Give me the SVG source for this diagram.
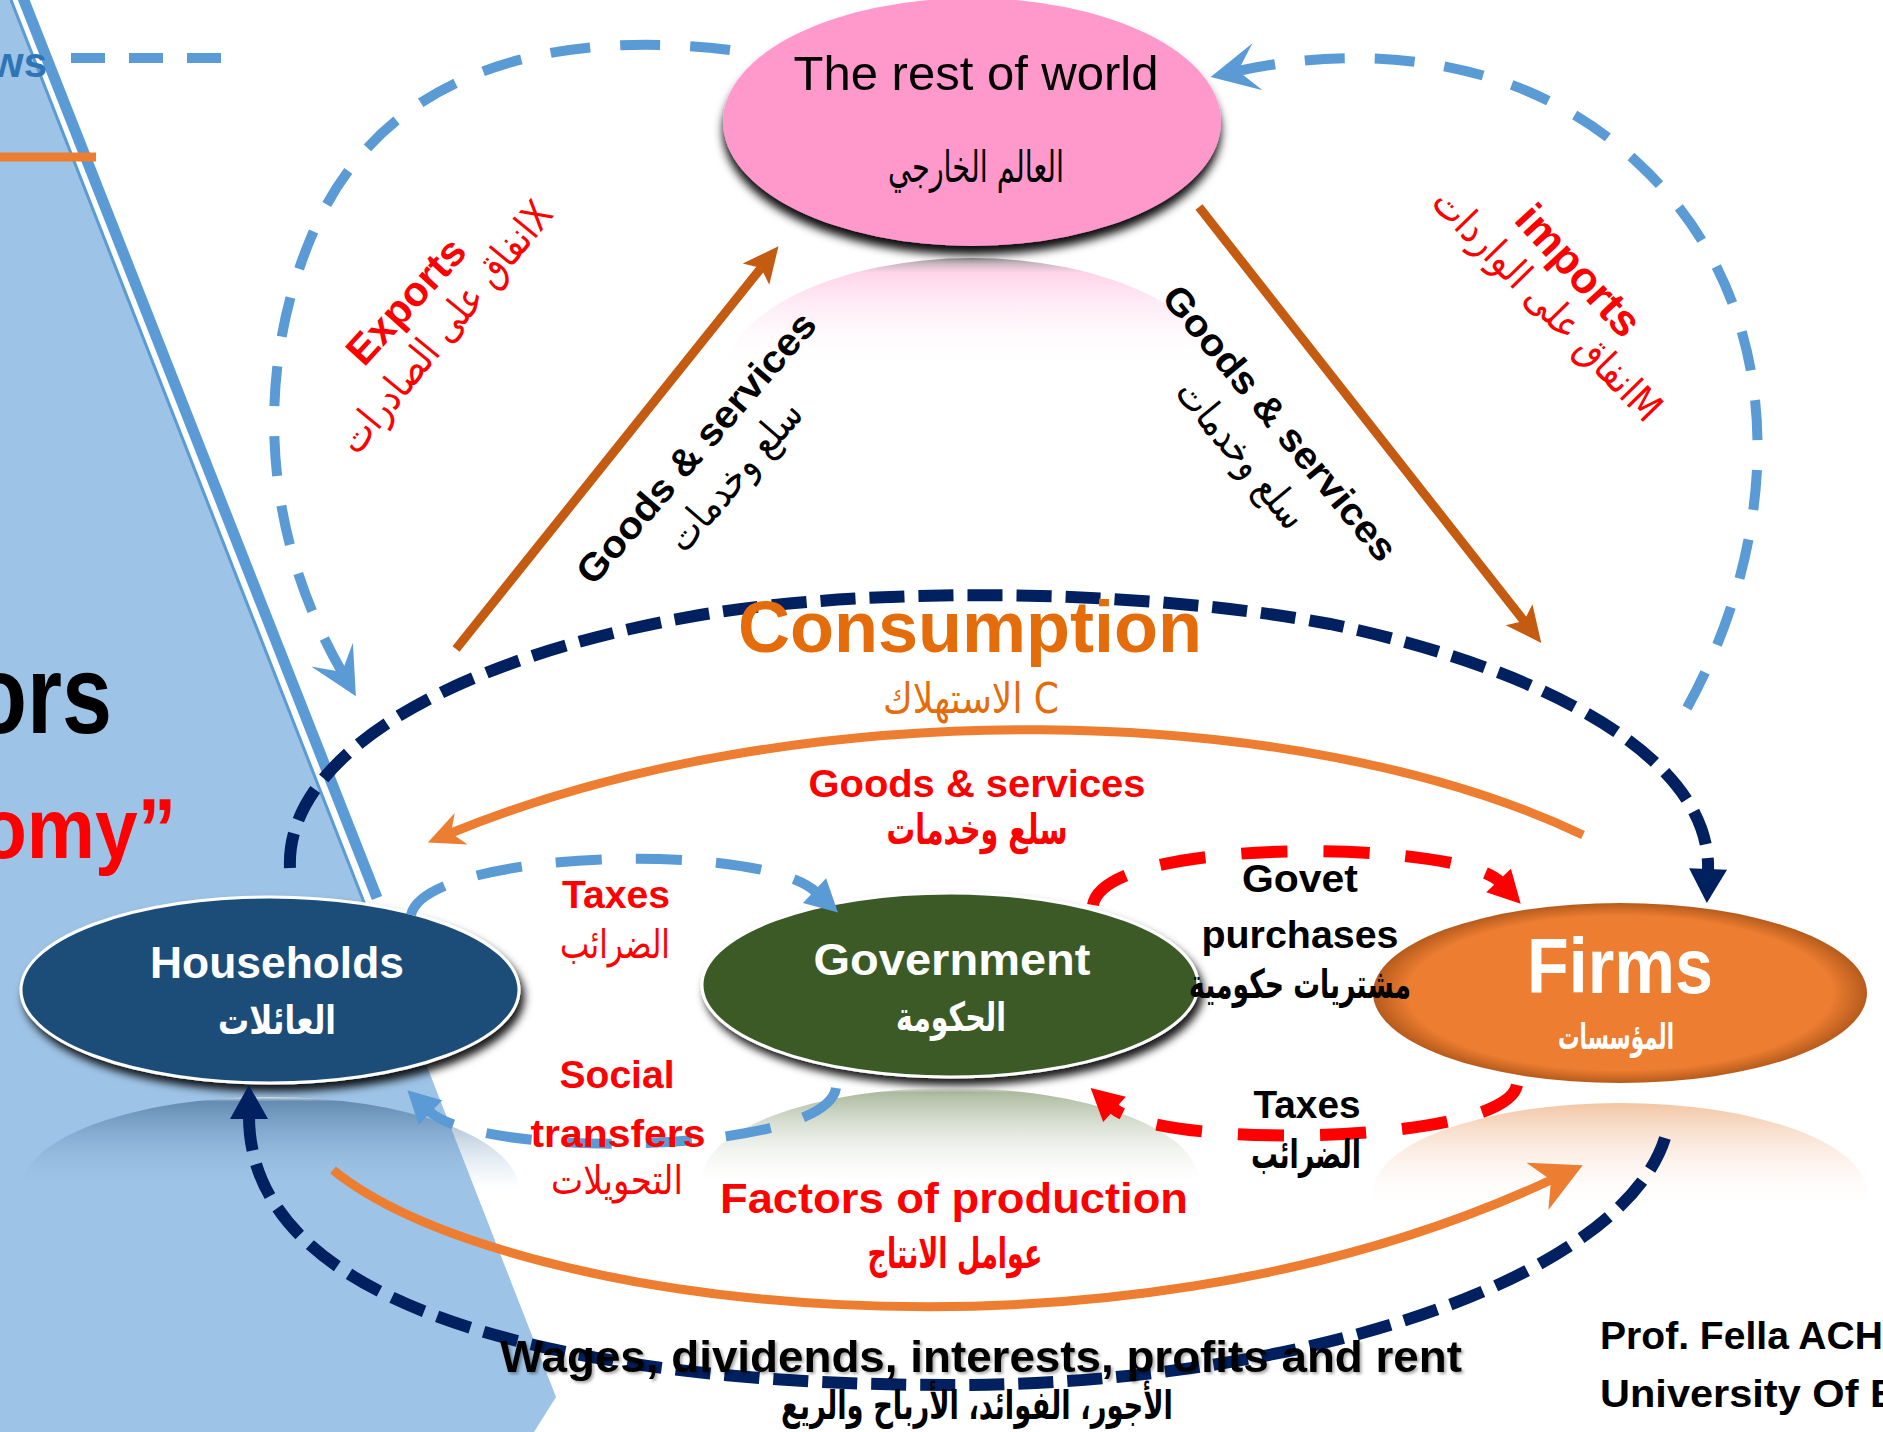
<svg xmlns="http://www.w3.org/2000/svg" width="1883" height="1432" viewBox="0 0 1883 1432">
<style>
.en{font-family:"Liberation Sans",Arial,sans-serif;font-weight:bold}
.enr{font-family:"Liberation Sans",Arial,sans-serif}
.ar{font-family:"DejaVu Sans",sans-serif}
.mid{text-anchor:middle}
.lbDash{fill:none;stroke:#5B9BD5;stroke-width:10;stroke-dasharray:40 30}
.lbDash2{fill:none;stroke:#5B9BD5;stroke-width:10;stroke-dasharray:46 34}
.navy{fill:none;stroke:#002060;stroke-width:12;stroke-dasharray:35 14}
.red{fill:none;stroke:#FF0000;stroke-width:12;stroke-dasharray:46 36}
.orange{fill:none;stroke:#ED7D31;stroke-width:9}
.brown{fill:none;stroke:#C55A11;stroke-width:9}
</style>
<defs>
<filter id="shRW" x="-20%" y="-20%" width="140%" height="150%"><feDropShadow dx="0" dy="9" stdDeviation="5" flood-color="#000" flood-opacity="0.95"/></filter>
<filter id="shN" x="-20%" y="-20%" width="140%" height="150%"><feDropShadow dx="4" dy="7" stdDeviation="4" flood-color="#000" flood-opacity="0.9"/></filter>
<filter id="shT" x="-5%" y="-20%" width="110%" height="150%"><feDropShadow dx="2" dy="2" stdDeviation="1.5" flood-color="#000" flood-opacity="0.35"/></filter>
<filter id="soft" x="-10%" y="-10%" width="120%" height="120%"><feGaussianBlur stdDeviation="1.2"/></filter>
<radialGradient id="gFirm" cx="50%" cy="50%" r="50%"><stop offset="0" stop-color="#ED7D31"/><stop offset="0.86" stop-color="#ED7D31"/><stop offset="1" stop-color="#B65B1C"/></radialGradient>
<linearGradient id="rRW" x1="0" y1="0" x2="0" y2="1"><stop offset="0" stop-color="#8a8a8a" stop-opacity="0.8"/><stop offset="0.06" stop-color="#FFB8DC" stop-opacity="0.6"/><stop offset="0.45" stop-color="#FFFFFF" stop-opacity="0"/></linearGradient>
<linearGradient id="rHH" x1="0" y1="0" x2="0" y2="1"><stop offset="0" stop-color="#FFFFFF" stop-opacity="0.9"/><stop offset="0.025" stop-color="#3F668F" stop-opacity="0.6"/><stop offset="0.5" stop-color="#9DC3E6" stop-opacity="0"/></linearGradient>
<linearGradient id="rGV" x1="0" y1="0" x2="0" y2="1"><stop offset="0" stop-color="#FFFFFF" stop-opacity="0.9"/><stop offset="0.025" stop-color="#8FA47E" stop-opacity="0.75"/><stop offset="0.55" stop-color="#FFFFFF" stop-opacity="0"/></linearGradient>
<linearGradient id="rFM" x1="0" y1="0" x2="0" y2="1"><stop offset="0" stop-color="#F2C3A0" stop-opacity="0.95"/><stop offset="0.6" stop-color="#FFFFFF" stop-opacity="0"/></linearGradient>
<marker id="mBlueS" markerUnits="userSpaceOnUse" orient="auto" markerWidth="60" markerHeight="60" refX="20" refY="0" overflow="visible"><path d="M0,-24 L48,0 L0,24 L20,0 Z" fill="#5B9BD5"/></marker>
<marker id="mOrS" markerUnits="userSpaceOnUse" orient="auto" markerWidth="60" markerHeight="60" refX="11" refY="0" overflow="visible"><path d="M0,-17 L36,0 L0,17 L11,0 Z" fill="#ED7D31"/></marker>
<marker id="mOrL" markerUnits="userSpaceOnUse" orient="auto" markerWidth="60" markerHeight="60" refX="15" refY="0" overflow="visible"><path d="M0,-26 L50,0 L0,26 L15,0 Z" fill="#ED7D31"/></marker>
<marker id="mBrown" markerUnits="userSpaceOnUse" orient="auto" markerWidth="60" markerHeight="60" refX="8" refY="0" overflow="visible"><path d="M0,-17 L36,0 L0,17 L8,0 Z" fill="#C55A11"/></marker>
<marker id="mTriB" markerUnits="userSpaceOnUse" orient="auto" markerWidth="60" markerHeight="60" refX="2" refY="0" overflow="visible"><path d="M0,-17 L32,0 L0,17 Z" fill="#5B9BD5"/></marker>
<marker id="mTriR" markerUnits="userSpaceOnUse" orient="auto" markerWidth="60" markerHeight="60" refX="2" refY="0" overflow="visible"><path d="M0,-17 L32,0 L0,17 Z" fill="#FF0000"/></marker>
<marker id="mTriN" markerUnits="userSpaceOnUse" orient="auto" markerWidth="60" markerHeight="60" refX="2" refY="0" overflow="visible"><path d="M0,-19 L34,0 L0,19 Z" fill="#002060"/></marker>
</defs>
<rect width="1883" height="1432" fill="#FFFFFF"/>
<g id="background">
<polygon points="0,0 11,0 556,1397 534,1432 0,1432" fill="#9DC3E6"/>
<line x1="11" y1="0" x2="365" y2="905" stroke="#5B9BD5" stroke-width="3"/>
<line x1="23" y1="-2" x2="377" y2="898" stroke="#5B9BD5" stroke-width="11"/>
<line x1="0" y1="157" x2="96" y2="157" stroke="#ED7D31" stroke-width="9"/>
<line x1="71" y1="58" x2="221" y2="58" stroke="#5B9BD5" stroke-width="10" stroke-dasharray="34 24"/>
<text class="en" x="47" y="77" font-size="42" fill="#2E75B6" text-anchor="end">ws</text>
<text class="en" x="112" y="733" font-size="112" fill="#000" text-anchor="end" textLength="140" lengthAdjust="spacingAndGlyphs">ors</text>
<text class="en" x="176" y="858" font-size="86" fill="#FF0000" text-anchor="end" textLength="196" lengthAdjust="spacingAndGlyphs">omy”</text>
</g>
<g id="reflections">
<ellipse cx="972" cy="382" rx="249" ry="124" fill="url(#rRW)"/>
<ellipse cx="270" cy="1190" rx="249" ry="93" fill="url(#rHH)"/>
<ellipse cx="950" cy="1180" rx="248" ry="92" fill="url(#rGV)"/>
<ellipse cx="1620" cy="1193" rx="247" ry="90" fill="url(#rFM)"/>
</g>
<g id="node-rest-of-world">
<ellipse cx="972" cy="122" rx="249" ry="124" fill="#FF99CC" filter="url(#shRW)"/>
<text class="enr mid" x="976" y="90" font-size="49" fill="#000">The rest of world</text>
<text class="ar mid" x="976" y="182" font-size="44" fill="#000" textLength="176" lengthAdjust="spacingAndGlyphs">العالم الخارجي</text>
</g>
<g id="node-households">
<ellipse cx="270" cy="990" rx="249" ry="93" fill="#1F4E79" stroke="#FFFFFF" stroke-width="3" filter="url(#shN)"/>
<text class="en mid" x="277" y="978" font-size="45" fill="#FFFFFF" textLength="254" lengthAdjust="spacingAndGlyphs">Households</text>
<text class="ar mid" x="277" y="1034" font-size="40" font-weight="bold" fill="#FFFFFF" textLength="118" lengthAdjust="spacingAndGlyphs">العائلات</text>
</g>
<g id="node-government">
<ellipse cx="950" cy="985" rx="248" ry="92" fill="#3A5A26" stroke="#FFFFFF" stroke-width="3" filter="url(#shN)"/>
<text class="en mid" x="952" y="975" font-size="45" fill="#FFFFFF" textLength="277" lengthAdjust="spacingAndGlyphs">Government</text>
<text class="ar mid" x="951" y="1031" font-size="40" font-weight="bold" fill="#FFFFFF" textLength="110" lengthAdjust="spacingAndGlyphs">الحكومة</text>
</g>
<g id="node-firms">
<ellipse cx="1620" cy="993" rx="247" ry="90" fill="url(#gFirm)"/>
<text class="en mid" x="1620" y="993" font-size="77" fill="#FFFFFF" textLength="186" lengthAdjust="spacingAndGlyphs">Firms</text>
<text class="ar mid" x="1616" y="1049" font-size="36" font-weight="bold" fill="#FFFFFF" textLength="116" lengthAdjust="spacingAndGlyphs">المؤسسات</text>
</g>
<g id="connectors">
<path class="lbDash" d="M 730 50 C 520 25 370 90 310 240 C 260 360 255 520 342 672" marker-end="url(#mBlueS)"/>
<path class="lbDash" d="M 1687 708 C 1790 520 1785 300 1640 165 C 1540 68 1390 38 1238 71" marker-end="url(#mBlueS)"/>
<line class="brown" x1="456" y1="649" x2="761" y2="268" marker-end="url(#mBrown)"/>
<line class="brown" x1="1199" y1="207" x2="1524" y2="621" marker-end="url(#mBrown)"/>
<path class="navy" d="M 290 868 C 285 760 440 660 700 615 C 880 585 1150 590 1330 624 C 1550 670 1712 760 1708 871" marker-end="url(#mTriN)"/>
<path class="orange" d="M 1583 835 C 1300 700 800 690 451 833" marker-end="url(#mOrS)"/>
<path class="lbDash2" d="M 411 915 C 425 850 760 840 816 892" marker-end="url(#mTriB)"/>
<path class="red" d="M 1093 905 C 1105 835 1460 840 1500 882" marker-end="url(#mTriR)"/>
<path class="red" d="M 1517 1085 C 1505 1145 1160 1150 1113 1108" marker-end="url(#mTriR)"/>
<path class="lbDash2" d="M 836 1088 C 825 1155 480 1160 429 1111" marker-end="url(#mTriB)"/>
<path class="orange" d="M 333 1170 C 500 1305 1100 1390 1551 1180" marker-end="url(#mOrL)"/>
<path class="navy" d="M 1665 1138 C 1620 1280 1300 1385 950 1385 C 600 1385 250 1320 249 1117" marker-end="url(#mTriN)"/>
</g>
<g id="labels">
<g transform="translate(406,301) rotate(-47.6)"><text class="en mid" x="0" y="14" font-size="41" fill="#FF0000" textLength="155" lengthAdjust="spacingAndGlyphs">Exports</text></g>
<g transform="translate(449,330) rotate(-50.7)"><text class="ar mid" x="0" y="9" font-size="40" fill="#FF0000" textLength="312" lengthAdjust="spacingAndGlyphs">انفاق على الصادراتX</text></g>
<g transform="translate(1578,271) rotate(47.4)"><text class="en mid" x="0" y="14" font-size="44" fill="#FF0000" textLength="162" lengthAdjust="spacingAndGlyphs">imports</text></g>
<g transform="translate(1544,308) rotate(45.6)"><text class="ar mid" x="0" y="9" font-size="40" fill="#FF0000" textLength="308" lengthAdjust="spacingAndGlyphs">انفاق على الوارداتM</text></g>
<g transform="translate(696,448) rotate(-49.2)"><text class="en mid" x="0" y="13" font-size="38" fill="#000" textLength="345" lengthAdjust="spacingAndGlyphs">Goods &amp; services</text></g>
<g transform="translate(738,479) rotate(-49.2)"><text class="ar mid" x="0" y="9" font-size="40" fill="#000" textLength="184" lengthAdjust="spacingAndGlyphs">سلع وخدمات</text></g>
<g transform="translate(1280,423) rotate(50.5)"><text class="en mid" x="0" y="13" font-size="38" fill="#000" textLength="345" lengthAdjust="spacingAndGlyphs">Goods &amp; services</text></g>
<g transform="translate(1238,457) rotate(50.5)"><text class="ar mid" x="0" y="9" font-size="40" fill="#000" textLength="180" lengthAdjust="spacingAndGlyphs">سلع وخدمات</text></g>
<text class="en mid" x="970" y="652" font-size="72" fill="#E46C0A" textLength="464" lengthAdjust="spacingAndGlyphs">Consumption</text>
<text class="ar mid" x="971" y="713" font-size="42" fill="#E46C0A" textLength="176" lengthAdjust="spacingAndGlyphs">الاستهلاك C</text>
<text class="en mid" x="977" y="797" font-size="38" fill="#FF0000" textLength="337" lengthAdjust="spacingAndGlyphs">Goods &amp; services</text>
<text class="ar mid" x="977" y="844" font-size="42" font-weight="bold" fill="#FF0000" textLength="181" lengthAdjust="spacingAndGlyphs">سلع وخدمات</text>
<text class="en mid" x="616" y="908" font-size="38" fill="#FF0000" textLength="108" lengthAdjust="spacingAndGlyphs">Taxes</text>
<text class="ar mid" x="615" y="958" font-size="40" fill="#FF0000" textLength="110" lengthAdjust="spacingAndGlyphs">الضرائب</text>
<text class="en mid" x="1300" y="892" font-size="38" fill="#000" textLength="116" lengthAdjust="spacingAndGlyphs">Govet</text>
<text class="en mid" x="1300" y="948" font-size="38" fill="#000" textLength="197" lengthAdjust="spacingAndGlyphs">purchases</text>
<text class="ar mid" x="1300" y="998" font-size="40" font-weight="bold" fill="#000" textLength="222" lengthAdjust="spacingAndGlyphs">مشتريات حكومية</text>
<text class="en mid" x="1307" y="1118" font-size="38" fill="#000" textLength="107" lengthAdjust="spacingAndGlyphs">Taxes</text>
<text class="ar mid" x="1306" y="1168" font-size="40" font-weight="bold" fill="#000" textLength="110" lengthAdjust="spacingAndGlyphs">الضرائب</text>
<text class="en mid" x="617" y="1088" font-size="38" fill="#FF0000" textLength="115" lengthAdjust="spacingAndGlyphs">Social</text>
<text class="en mid" x="618" y="1147" font-size="38" fill="#FF0000" textLength="175" lengthAdjust="spacingAndGlyphs">transfers</text>
<text class="ar mid" x="617" y="1194" font-size="40" fill="#FF0000" textLength="132" lengthAdjust="spacingAndGlyphs">التحويلات</text>
<text class="en mid" x="954" y="1213" font-size="43" fill="#FF0000" textLength="468" lengthAdjust="spacingAndGlyphs">Factors of production</text>
<text class="ar mid" x="955" y="1268" font-size="42" font-weight="bold" fill="#FF0000" textLength="175" lengthAdjust="spacingAndGlyphs">عوامل الانتاج</text>
<text class="en mid" x="981" y="1372" font-size="44" fill="#000" textLength="962" lengthAdjust="spacingAndGlyphs" filter="url(#shT)">Wages, dividends, interests, profits and rent</text>
<text class="ar mid" x="977" y="1419" font-size="40" font-weight="bold" fill="#000" textLength="392" lengthAdjust="spacingAndGlyphs">الأجور، الفوائد، الأرباح والريع</text>
<text class="en" x="1600" y="1349" font-size="39" fill="#000" textLength="283" lengthAdjust="spacingAndGlyphs">Prof. Fella ACH</text>
<text class="en" x="1600" y="1407" font-size="39" fill="#000" textLength="300" lengthAdjust="spacingAndGlyphs">University Of B</text>
</g>
</svg>
